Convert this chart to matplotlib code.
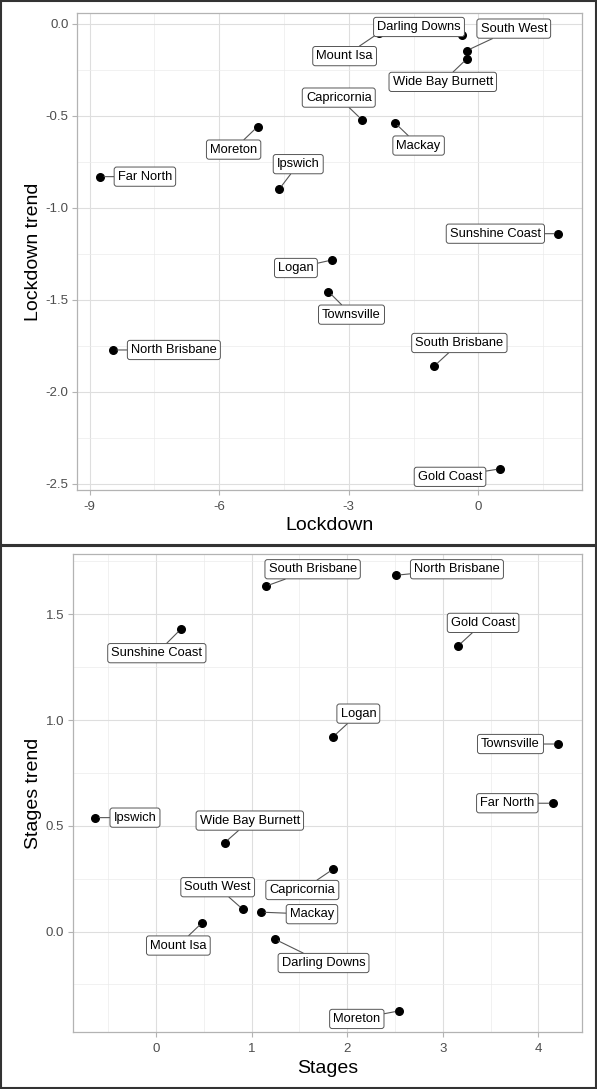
import numpy as np
import matplotlib
matplotlib.use("Agg")
import matplotlib.pyplot as plt
from matplotlib.patches import Rectangle

plt.rcParams['font.family'] = ['Liberation Sans', 'DejaVu Sans']

# Top panel: Lockdown vs Lockdown trend
lock_regions = ['Far North', 'Moreton', 'Ipswich', 'Mount Isa', 'Darling Downs', 'South West',
                'Wide Bay Burnett', 'Capricornia', 'Mackay', 'Sunshine Coast', 'Logan',
                'Townsville', 'North Brisbane', 'South Brisbane', 'Gold Coast']
lockdown = [-8.76, -5.11, -4.61, -2.31, -0.38, -0.27, -0.27, -2.70, -1.94, 1.85, -3.39,
            -3.47, -8.46, -1.02, 0.50]
lockdown_trend = [-0.83, -0.558, -0.898, -0.05, -0.06, -0.145, -0.19, -0.52, -0.536, -1.14,
                  -1.283, -1.455, -1.772, -1.859, -2.418]
# label offsets in pixels (dx right, dy down) like ggrepel placed them
lock_offsets = [(45, 0), (-24, 23), (19, -25), (-34, 23), (-43, -8), (47, -22), (-24, 23),
                (-23, -22), (24, 23), (-63, 0), (-36, 8), (23, 23), (61, 0), (25, -23), (-50, 8)]

# Bottom panel: Stages vs Stages trend
stage_regions = ['South Brisbane', 'Sunshine Coast', 'North Brisbane', 'Gold Coast', 'Logan',
                 'Townsville', 'Far North', 'Ipswich', 'Wide Bay Burnett', 'South West',
                 'Capricornia', 'Mackay', 'Mount Isa', 'Darling Downs', 'Moreton']
stages = [1.147, 0.26, 2.51, 3.16, 1.855, 4.21, 4.156, -0.638, 0.72, 0.907, 1.855, 1.098,
          0.485, 1.24, 2.54]
stages_trend = [1.633, 1.43, 1.685, 1.351, 0.922, 0.887, 0.607, 0.539, 0.421, 0.106, 0.296,
                0.092, 0.043, -0.035, -0.375]
stage_offsets = [(47, -17), (-24, 24), (61, -6), (25, -23), (25, -23), (-48, 0), (-46, 0),
                 (40, 0), (25, -22), (-25, -22), (-31, 21), (51, 2), (-24, 23), (49, 24),
                 (-42, 8)]

W, H = 597, 1089
fig = plt.figure(figsize=(W / 100, H / 100), dpi=100)

# outer frames of the two panels
fig.add_artist(Rectangle((1 / W, 544 / H), 595 / W, 544 / H, transform=fig.transFigure,
                         fill=False, edgecolor='#333333', linewidth=1.5))
fig.add_artist(Rectangle((1 / W, 1 / H), 595 / W, 542 / H, transform=fig.transFigure,
                         fill=False, edgecolor='#333333', linewidth=1.5))


def px_axes(left, top, right, bottom):
    return fig.add_axes([left / W, 1 - bottom / H, (right - left) / W, (bottom - top) / H])


def style(ax, xlim, ylim, xt, yt, xminor, yminor, xlabel, ylabel):
    ax.set_xlim(xlim)
    ax.set_ylim(ylim)
    ax.set_xticks(xt)
    ax.set_yticks(yt)
    ax.set_xticks(xminor, minor=True)
    ax.set_yticks(yminor, minor=True)
    ax.grid(which='major', color='#DEDEDE', linewidth=0.8)
    ax.grid(which='minor', color='#EBEBEB', linewidth=0.5)
    ax.set_axisbelow(True)
    for s in ax.spines.values():
        s.set_color('#B3B3B3')
        s.set_linewidth(0.9)
    ax.tick_params(which='major', length=3.5, color='#B3B3B3', labelcolor='#4D4D4D',
                   labelsize=9.5, pad=2.5)
    ax.tick_params(axis='x', which='major', pad=4.5)
    ax.tick_params(which='minor', length=0)
    ax.set_xlabel(xlabel, fontsize=14, color='black', labelpad=3)
    ax.set_ylabel(ylabel, fontsize=14, color='black', labelpad=3)


def draw(ax, xs, ys, names, offsets):
    ax.scatter(xs, ys, s=30, color='black', zorder=3)
    for x, y, name, (dx, dy) in zip(xs, ys, names, offsets):
        ax.annotate(name, (x, y), xytext=(dx, -dy), textcoords='offset pixels',
                    ha='center', va='center', fontsize=9.3, zorder=4,
                    bbox=dict(boxstyle='round,pad=0.28,rounding_size=0.2', fc='white',
                              ec='#555555', lw=0.7),
                    arrowprops=dict(arrowstyle='-', color='#555555', lw=0.8,
                                    shrinkA=0, shrinkB=3))


ax1 = px_axes(77, 12.7, 581.7, 490)
draw(ax1, lockdown, lockdown_trend, lock_regions, lock_offsets)
style(ax1, (-9.29, 2.39), (-2.533, 0.061), [-9, -6, -3, 0], [-2.5, -2.0, -1.5, -1.0, -0.5, 0.0],
      [-7.5, -4.5, -1.5, 1.5], [-2.25, -1.75, -1.25, -0.75, -0.25],
      'Lockdown', 'Lockdown trend')
ax1.set_yticklabels(['-2.5', '-2.0', '-1.5', '-1.0', '-0.5', '0.0'])
ax1.set_xticklabels(['-9', '-6', '-3', '0'])

ax2 = px_axes(72.7, 554.3, 581.7, 1032.3)
draw(ax2, stages, stages_trend, stage_regions, stage_offsets)
style(ax2, (-0.871, 4.453), (-0.476, 1.784), [0, 1, 2, 3, 4], [0.0, 0.5, 1.0, 1.5],
      [-0.5, 0.5, 1.5, 2.5, 3.5], [-0.25, 0.25, 0.75, 1.25, 1.75],
      'Stages', 'Stages trend')

fig.savefig('out.png', dpi=100)
